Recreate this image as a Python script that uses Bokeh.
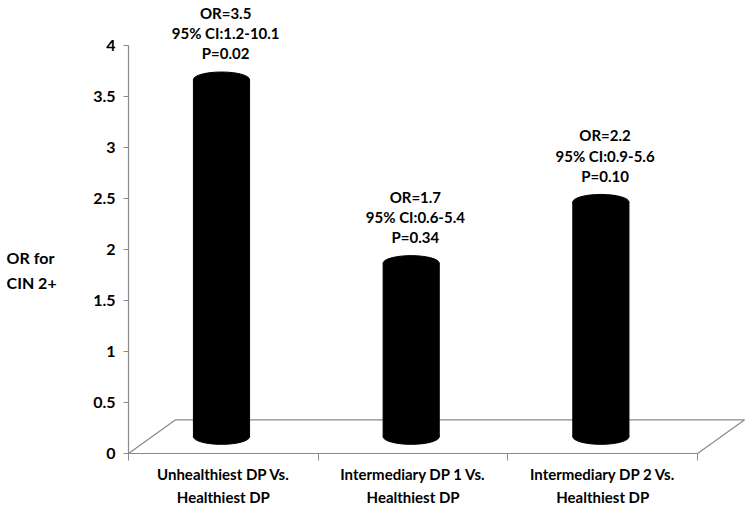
from bokeh.plotting import figure
from bokeh.models import FixedTicker, NumeralTickFormatter, Label, Range1d
from bokeh.core.properties import value
from bokeh.embed import file_html
from bokeh.resources import INLINE

# ---- data ----
categories = ["Unhealthiest DP Vs.\nHealthiest DP",
              "Intermediary DP 1 Vs.\nHealthiest DP",
              "Intermediary DP 2 Vs.\nHealthiest DP"]
bar_heights = [3.5, 1.7, 2.3]
or_labels = ["OR=3.5", "OR=1.7", "OR=2.2"]
ci_labels = ["95% CI:1.2-10.1", "95% CI:0.6-5.4", "95% CI:0.9-5.6"]
p_labels = ["P=0.02", "P=0.34", "P=0.10"]
y_ticks = [0, 0.5, 1, 1.5, 2, 2.5, 3, 3.5, 4]
y_label = "OR for\nCIN 2+"

# ---- style ----
FONT = "Lato"
GRAY = "#8a8a8a"
DEPTH_X = 0.248
DEPTH_Y = 0.33
BAR_W = 0.296
CAP_H = 0.15

n = len(categories)
xs = [i + 0.5 - 0.01 for i in range(n)]
base = DEPTH_Y / 2
tops = [h + base for h in bar_heights]
text_x = [i + 0.5 + 0.012 for i in range(n)]
text_y = [t + 0.17 for t in tops]
texts = [f"{a}\n{b}\n{c}" for a, b, c in zip(or_labels, ci_labels, p_labels)]

p = figure(width=751, height=508,
           x_range=Range1d(-0.675, 3.284), y_range=Range1d(-0.539, 4.441),
           output_backend="svg", toolbar_location=None,
           min_border_left=0, min_border_right=0,
           min_border_top=0, min_border_bottom=0)
p.outline_line_color = None
p.xgrid.visible = False
p.ygrid.visible = False

# floor of the 3D plot area
p.line(x=[0, DEPTH_X, n + DEPTH_X, n], y=[0, DEPTH_Y, DEPTH_Y, 0],
       line_color=GRAY, line_width=1.2)

# cylinders
p.vbar(x=xs, width=BAR_W, bottom=base, top=tops,
       fill_color="black", line_color="black")
p.ellipse(x=xs, y=[base] * n, width=BAR_W, height=CAP_H,
          fill_color="black", line_color="black")
p.ellipse(x=xs, y=tops, width=BAR_W, height=CAP_H,
          fill_color="black", line_color="black")

# annotations above bars
p.text(x=text_x, y=text_y, text=texts,
       text_align="center", text_baseline="bottom",
       text_font=value(FONT), text_font_style="bold",
       text_font_size="15px", text_line_height=1.12, text_color="black")

# x axis
xa = p.xaxis[0]
xa.fixed_location = 0
xa.ticker = FixedTicker(ticks=[i + 0.5 for i in range(n)],
                        minor_ticks=list(range(n + 1)))
xa.major_label_overrides = {i + 0.5: c for i, c in enumerate(categories)}
xa.bounds = (0, n)
xa.axis_line_color = GRAY
xa.axis_line_width = 1.2
xa.major_tick_out = 0
xa.major_tick_in = 0
xa.minor_tick_out = 7
xa.minor_tick_in = 0
xa.minor_tick_line_color = GRAY
xa.major_label_standoff = 4
xa.major_label_text_font = FONT
xa.major_label_text_font_style = "bold"
xa.major_label_text_font_size = "15px"
xa.major_label_text_color = "black"
xa.major_label_text_line_height = 1.3

# y axis
ya = p.yaxis[0]
ya.fixed_location = 0
ya.ticker = FixedTicker(ticks=y_ticks)
ya.formatter = NumeralTickFormatter(format="0.[0]")
ya.bounds = (0, 4)
ya.axis_line_color = GRAY
ya.axis_line_width = 1.2
ya.major_tick_out = 5
ya.major_tick_in = 0
ya.major_tick_line_color = GRAY
ya.minor_tick_line_color = None
ya.major_label_standoff = 8
ya.major_label_text_font = FONT
ya.major_label_text_font_style = "bold"
ya.major_label_text_font_size = "16px"
ya.major_label_text_color = "black"

p.add_layout(Label(x=-0.643, y=1.80, text=y_label, text_align="left",
                   text_baseline="middle", text_font=FONT,
                   text_font_style="bold", text_font_size="16px",
                   text_line_height=1.3, text_color="black"))

open("out.html", "w").write(file_html(p, INLINE))
